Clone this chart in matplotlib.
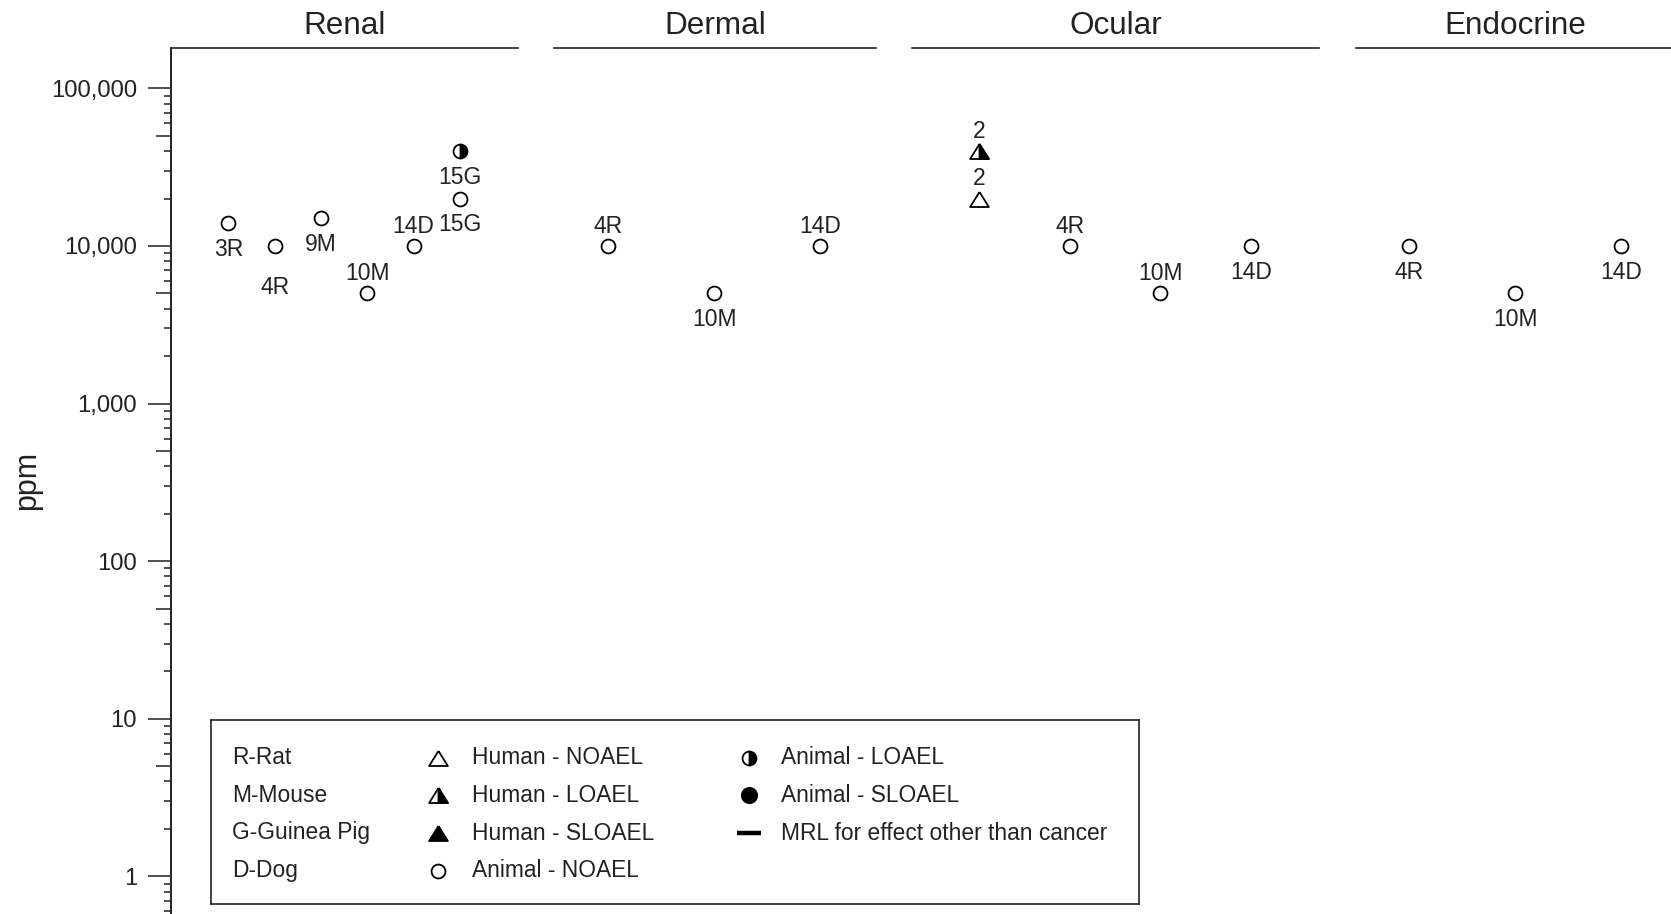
import matplotlib
matplotlib.use('Agg')
import matplotlib.pyplot as plt
from matplotlib.ticker import FixedLocator, FuncFormatter, NullFormatter, NullLocator

plt.rcParams['font.family'] = ['Liberation Sans', 'DejaVu Sans']

W, H = 1671, 914

# ---- data ----
panels = ['Renal', 'Dermal', 'Ocular', 'Endocrine']

renal_col = [0, 1, 2, 3, 4, 5, 5]
renal_ppm = [14000, 10000, 15000, 5000, 10000, 20000, 40000]
renal_lab = ['3R', '4R', '9M', '10M', '14D', '15G', '15G']
renal_kind = ['a_noael', 'a_noael', 'a_noael', 'a_noael', 'a_noael', 'a_noael', 'a_loael']

dermal_col = [0, 1, 2]
dermal_ppm = [10000, 5000, 10000]
dermal_lab = ['4R', '10M', '14D']
dermal_kind = ['a_noael', 'a_noael', 'a_noael']

ocular_col = [0, 0, 1, 2, 3]
ocular_ppm = [20000, 40000, 10000, 5000, 10000]
ocular_lab = ['2', '2', '4R', '10M', '14D']
ocular_kind = ['h_noael', 'h_loael', 'a_noael', 'a_noael', 'a_noael']

endo_col = [0, 1, 2]
endo_ppm = [10000, 5000, 10000]
endo_lab = ['4R', '10M', '14D']
endo_kind = ['a_noael', 'a_noael', 'a_noael']

species_key = ['R-Rat', 'M-Mouse', 'G-Guinea Pig', 'D-Dog']
marker_key = [['h_noael', 'Human - NOAEL'], ['h_loael', 'Human - LOAEL'],
              ['h_sloael', 'Human - SLOAEL'], ['a_noael', 'Animal - NOAEL']]
marker_key2 = [['a_loael', 'Animal - LOAEL'], ['a_sloael', 'Animal - SLOAEL'],
               ['mrl', 'MRL for effect other than cancer']]

# ---- layout (pixels of the target image) ----
renal_pos = ['below', 'low', 'below', 'above', 'above', 'below', 'below']
dermal_pos = ['above', 'below', 'above']
ocular_pos = ['above', 'above', 'above', 'above', 'below']
endo_pos = ['below', 'below', 'below']
label_dy = {'above': 9.5, 'below': -23.5, 'low': -34.3}   # baseline offset, points

panel_px = [(170.7, 518.3), (554.0, 876.0), (911.7, 1319.3), (1355.7, 1675.0)]
panel_xlim = [(-1.243, 6.258), (-0.513, 2.529), (-0.746, 3.754), (-0.505, 2.505)]
top_px = 48.3
ylim = (0.577, 179500)

TRI = [(0, 0.8), (-1, -0.8), (1, -0.8), (0, 0.8)]
TRI_R = [(0, 0.8), (0, -0.8), (1, -0.8), (0, 0.8)]
INK = '#222222'


def draw_mark(ax, x, y, kind):
    base = dict(linestyle='none', markeredgecolor='black', mew=1.3, zorder=3)
    if kind == 'a_noael':
        ax.plot(x, y, marker='o', ms=10, mfc='white', **base)
    elif kind == 'a_loael':
        ax.plot(x, y, marker='o', ms=10, fillstyle='right', mfc='black',
                markerfacecoloralt='white', **base)
    elif kind == 'a_sloael':
        ax.plot(x, y, marker='o', ms=11, mfc='black', **base)
    elif kind == 'h_noael':
        ax.plot(x, y, marker=TRI, ms=13.5, mfc='white', **base)
    elif kind == 'h_loael':
        ax.plot(x, y, marker=TRI, ms=13.5, mfc='white', **base)
        ax.plot(x, y, marker=TRI_R, ms=13.5, mfc='black', **base)
    elif kind == 'h_sloael':
        ax.plot(x, y, marker=TRI, ms=13.5, mfc='black', **base)
    elif kind == 'mrl':
        ax.plot(x, y, marker='_', ms=17, mew=3.2, color='black', linestyle='none')


fig = plt.figure(figsize=(W / 100, H / 100), dpi=100)

data = [(renal_col, renal_ppm, renal_lab, renal_kind, renal_pos),
        (dermal_col, dermal_ppm, dermal_lab, dermal_kind, dermal_pos),
        (ocular_col, ocular_ppm, ocular_lab, ocular_kind, ocular_pos),
        (endo_col, endo_ppm, endo_lab, endo_kind, endo_pos)]

axes = []
for i, name in enumerate(panels):
    x0, x1 = panel_px[i]
    ax = fig.add_axes([x0 / W, 0, (x1 - x0) / W, 1 - top_px / H])
    ax.set_yscale('log')
    ax.set_ylim(*ylim)
    ax.set_xlim(*panel_xlim[i])
    ax.set_xticks([])
    for s in ['bottom', 'right', 'left']:
        ax.spines[s].set_visible(False)
    ax.spines['top'].set_linewidth(1.2)
    ax.spines['top'].set_color(INK)
    ax.set_title(name, fontsize=22.7, pad=10, color=INK)

    cols, vals, labs, kinds, pos = data[i]
    for c, v, lab, k, p in zip(cols, vals, labs, kinds, pos):
        draw_mark(ax, c, v, k)
        ax.annotate(lab, (c, v), xytext=(0, label_dy[p]), textcoords='offset points',
                    ha='center', va='baseline', fontsize=16.5, color=INK)
    axes.append(ax)

# y axis only on the first panel
ax = axes[0]
ax.spines['left'].set_visible(True)
ax.spines['left'].set_linewidth(1.2)
ax.spines['left'].set_color(INK)
ax.yaxis.set_major_locator(FixedLocator([1, 10, 100, 1000, 10000, 100000]))
ax.yaxis.set_major_formatter(FuncFormatter(lambda v, p: f'{int(round(v)):,}'))
ax.yaxis.set_minor_locator(FixedLocator(
    [m * 10.0 ** k for k in range(-1, 6) for m in (2, 3, 4, 6, 7, 8, 9)]))
ax.yaxis.set_minor_formatter(NullFormatter())
ax.tick_params(axis='y', which='major', length=16.3, width=1.1, pad=8,
               labelsize=17.2, color=INK, labelcolor=INK)
ax.tick_params(axis='y', which='minor', length=5, width=1.1, color=INK)

fives = ax.secondary_yaxis('left')
fives.yaxis.set_major_locator(FixedLocator([5 * 10.0 ** k for k in range(-1, 6)]))
fives.yaxis.set_minor_locator(NullLocator())
fives.yaxis.set_major_formatter(NullFormatter())
fives.tick_params(axis='y', length=11, width=1.1, color=INK)
fives.spines['left'].set_linewidth(1.2)
fives.spines['left'].set_color(INK)

for a in axes[1:]:
    a.tick_params(axis='y', which='both', left=False, labelleft=False)

fig.text(27.5 / W, 1 - 480 / H, 'ppm', rotation=90, fontsize=22,
         ha='center', va='center', color=INK)

# ---- legend box, drawn in target pixel coordinates ----
lx0, lx1, ly0, ly1 = 211.0, 1139.2, 720.4, 903.7
lg = fig.add_axes([lx0 / W, 1 - ly1 / H, (lx1 - lx0) / W, (ly1 - ly0) / H])
lg.set_xlim(lx0, lx1)
lg.set_ylim(ly1, ly0)
lg.set_xticks([])
lg.set_yticks([])
for s in lg.spines.values():
    s.set_linewidth(1.2)
    s.set_color(INK)

rows = [757.5, 795.0, 833.0, 870.5]
for r, txt in zip(rows, species_key):
    lg.text(232.3, r, txt, fontsize=16.4, ha='left', va='center', color=INK)
for r, (k, txt) in zip(rows, marker_key):
    draw_mark(lg, 438, r, k)
    lg.text(472, r, txt, fontsize=16.4, ha='left', va='center', color=INK)
for r, (k, txt) in zip(rows, marker_key2):
    draw_mark(lg, 749, r, k)
    lg.text(781, r, txt, fontsize=16.4, ha='left', va='center', color=INK)

fig.savefig('out.png', dpi=100)
